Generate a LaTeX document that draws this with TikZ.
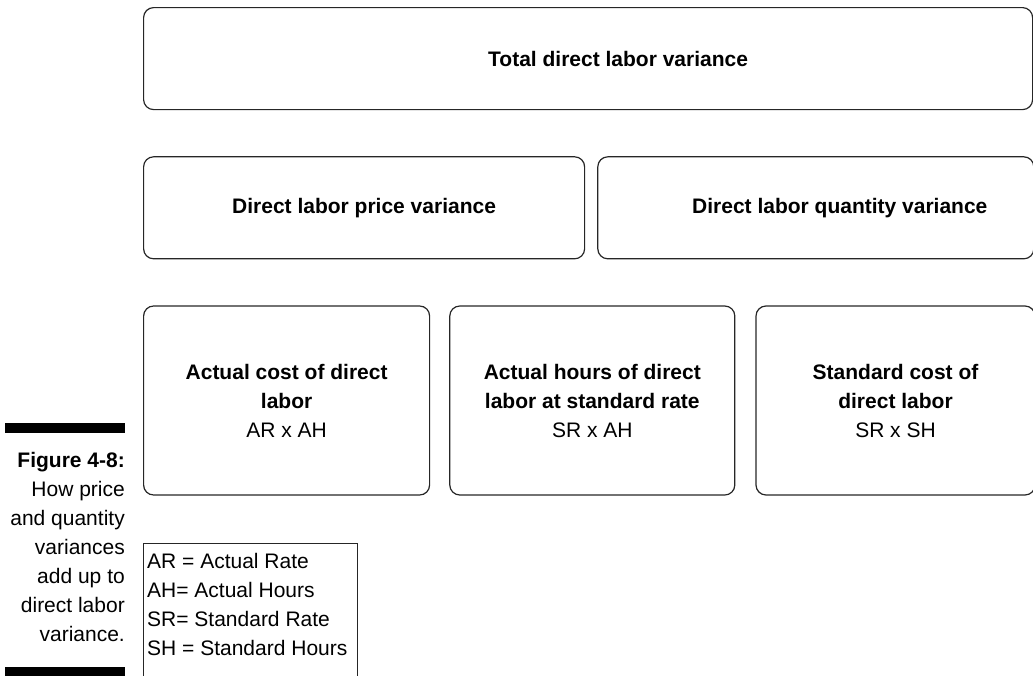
\documentclass[tikz,border=0pt]{standalone}
\usepackage{fontspec}
\setmainfont{Liberation Sans}
\usetikzlibrary{positioning}

\begin{document}
\begin{tikzpicture}[node distance=46pt,
   every node/.style={font=\fontsize{21}{29}\selectfont},
   box/.style={draw=black!85, line width=1.2pt, rounded corners=10pt, minimum height=102pt, align=center, font=\fontsize{21}{29}\selectfont\bfseries},
   tall/.style={box, minimum height=189pt},
   title/.style={font=\fontsize{21}{29}\selectfont\bfseries, inner sep=0pt}]
   \useasboundingbox (0pt,0pt) rectangle (1033pt,-675pt);
   % variance boxes
   \node[box, minimum width=889pt] (total) [anchor=north west] at (143pt,-7pt) {};
   \node[title] (totaltext) at ([xshift=30pt]total.center) {Total direct labor variance};
   \node[box, minimum width=441pt] (price) [below=of total.south west, anchor=north west] {Direct labor price variance};
   \node[box, minimum width=436pt] (qty) [right=12pt of price] {};
   \node[title] (qtytext) at ([xshift=24pt]qty.center) {Direct labor quantity variance};
   % cost boxes
   \node[tall, minimum width=286pt] (actual) [below=of price.south west, anchor=north west]
      {Actual cost of direct\\labor\\{\mdseries AR x AH}};
   \node[tall, minimum width=285pt] (atstd) [right=19pt of actual]
      {Actual hours of direct\\labor at standard rate\\{\mdseries SR x AH}};
   \node[tall, minimum width=279pt] (standard) [right=20pt of atstd]
      {Standard cost of\\direct labor\\{\mdseries SR x SH}};
   % legend, open at the bottom edge
   \node[draw=black!85, line width=1pt, minimum width=214pt, minimum height=170pt] (legend)
      [below=47pt of actual.south west, anchor=north west] {};
   \node[align=left, inner sep=0pt] (keys) [below right=10pt and 4pt of legend.north west, anchor=north west]
      {AR = Actual Rate\\AH= Actual Hours\\SR= Standard Rate\\SH = Standard Hours};
   % caption
   \node[align=right, inner sep=0pt] (caption) [anchor=north east] at (125pt,-452pt)
      {\textbf{Figure 4-8:}\\How price\\and quantity\\variances\\add up to\\direct labor\\variance.};
   \fill (5pt,-423pt) rectangle (125pt,-433pt);
   \fill (5pt,-667pt) rectangle (125pt,-680pt);
\end{tikzpicture}
\end{document}
